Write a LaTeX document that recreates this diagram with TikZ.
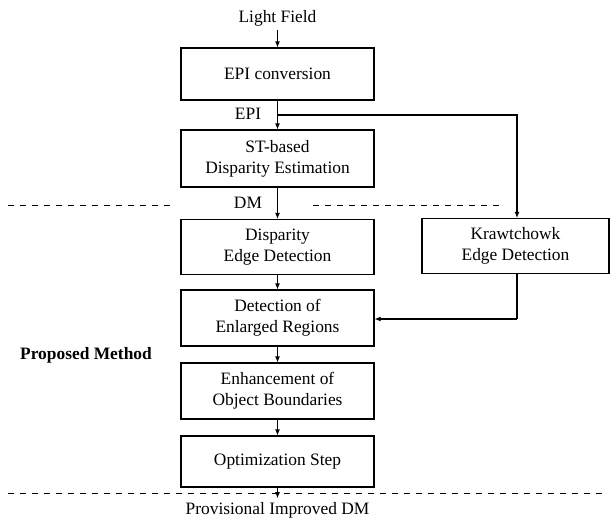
\documentclass[tikz,border=0pt]{standalone}
\usepackage{fontspec}
\setmainfont{Liberation Serif}
\usetikzlibrary{arrows.meta,calc}
\begin{document}
\begin{tikzpicture}[x=1pt,y=-1pt,
  font=\fontsize{17.4}{20.8}\selectfont,
  line width=1.1pt,
  stagebox/.style={draw, align=center, minimum width=193pt, minimum height=55pt, inner sep=0pt},
  flow/.style={-{Latex[length=6pt,width=5pt]}},
  sepline/.style={line width=0.9pt, dash pattern=on 6pt off 6pt}]
  \useasboundingbox (0,0) rectangle (610,523);

  % main processing column
  \node (lf) at (277.5,18) {Light Field};
  \node[stagebox, minimum height=52pt] (epi) at (277.5,74) {EPI conversion};
  \node[stagebox, minimum height=57pt] (st) at (277.5,158.5) {ST-based\\Disparity Estimation};
  \node[stagebox] (ded) at (277.5,247) {Disparity\\Edge Detection};
  \node[stagebox, minimum width=187pt] (ked) at (515.5,246) {Krawtchowk\\Edge Detection};
  \node[stagebox, minimum height=56pt] (der) at (277.5,318) {Detection of\\Enlarged Regions};
  \node[stagebox, minimum height=56pt] (eob) at (277.5,391) {Enhancement of\\Object Boundaries};
  \node[stagebox, minimum height=51pt] (opt) at (277.5,461.5) {Optimization Step};
  \node (out) at (277.5,510) {Provisional Improved DM};

  % labels on the data flow
  \node (epilbl) at (248,114) {EPI};
  \node (dmlbl) at (248,203) {DM};
  \node[font=\fontsize{17.4}{20.8}\selectfont\bfseries] (pm) at (86,355) {Proposed Method};

  % branch points
  \coordinate (br) at (277.5,115);
  \coordinate (brr) at (517,115);
  \coordinate (kin) at (517,319);

  % connectors
  \draw[flow] (lf) -- (epi);
  \draw[flow] (epi) -- (st);
  \draw[flow] (st) -- (ded);
  \draw[flow] (br) -- (brr) -- (brr |- ked.north);
  \draw[flow] (ded) -- (der);
  \draw (brr |- ked.south) -- (kin);
  \draw[flow] (kin) -- (kin -| der.east);
  \draw[flow] (der) -- (eob);
  \draw[flow] (eob) -- (opt);
  \draw[flow] (opt.south) -- (out.north);

  % boundaries of the proposed method
  \draw[sepline] (8,205) -- (172,205);
  \draw[sepline] (313,205) -- (503,205);
  \draw[sepline] (8,493) -- (603,493);
\end{tikzpicture}
\end{document}
